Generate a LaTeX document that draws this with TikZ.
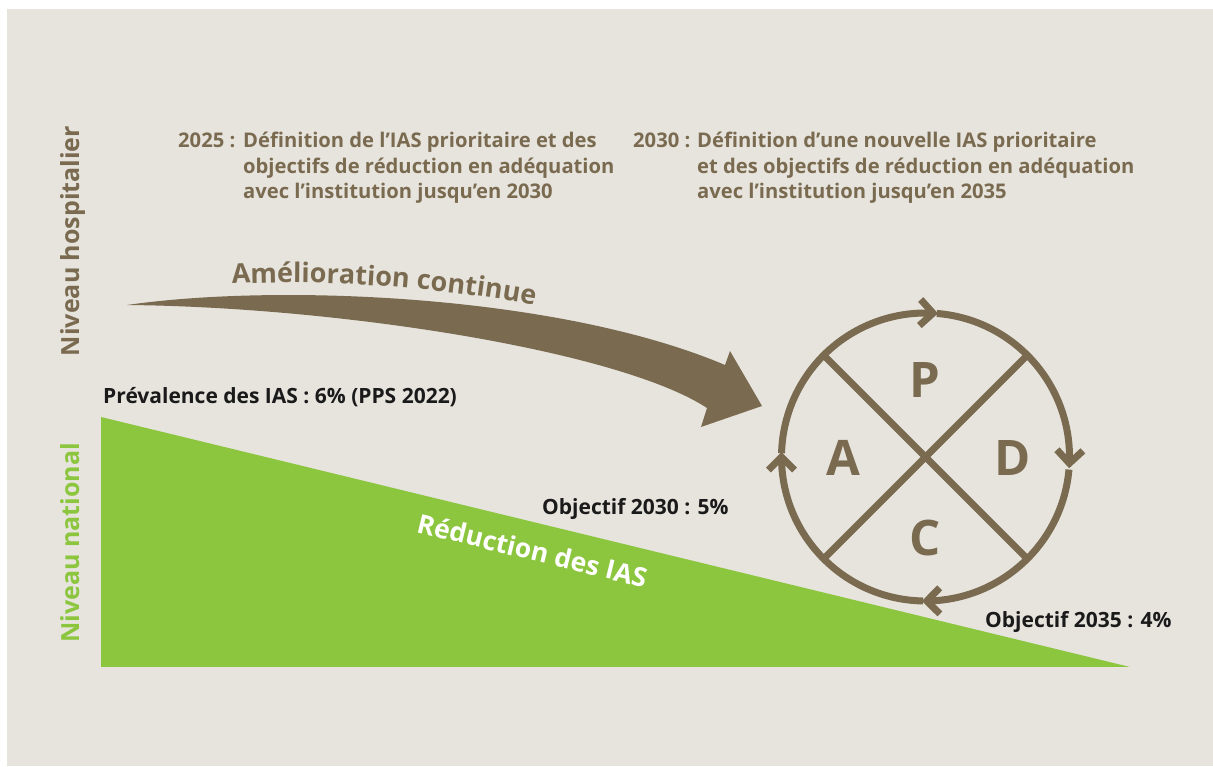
\documentclass[tikz,border=0pt]{standalone}
\usepackage{fontspec}
\setmainfont{Open Sans}
\usetikzlibrary{calc,decorations.text}
\definecolor{bg}{HTML}{E7E4DE}
\definecolor{brn}{HTML}{7A6B50}
\definecolor{grn}{HTML}{8CC63F}
\definecolor{txt}{HTML}{1A1A1A}
\begin{document}
\begin{tikzpicture}[x=1pt,y=1pt,
  hdr/.style={font=\bfseries\fontsize{20.2}{24}\selectfont, text=brn, inner sep=0, anchor=base west},
  lab/.style={font=\bfseries\fontsize{21}{24}\selectfont, text=txt, inner sep=0, anchor=base west},
  side/.style={font=\bfseries\fontsize{25}{30}\selectfont, rotate=90, anchor=base, inner sep=0},
  pdca/.style={draw=brn, line width=7pt},
  chev/.style={draw=brn, line width=7pt, line join=miter, miter limit=10},
  letter/.style={font=\bfseries\fontsize{49}{50}\selectfont, text=brn, inner sep=0},
]
\useasboundingbox (0,0) rectangle (1213,766);
\fill[white] (0,0) rectangle (1213,766);
\fill[bg] (7,0) rectangle (1213,757);

% green triangle
\fill[grn] (101,349) -- (101,99) -- (1130,99) -- cycle;

% side labels
\node[side, text=brn] (nh) at (79,525) {Niveau hospitalier};
\node[side, text=grn] (nn) at (79,223) {Niveau national};

% headers
\node[hdr] (y25) at (178,618) {2025 :};
\node[hdr] (h25a) at (243,618) {Définition de l’IAS prioritaire et des};
\node[hdr] (h25b) at (243,592) {objectifs de réduction en adéquation};
\node[hdr] (h25c) at (243,567) {avec l’institution jusqu’en 2030};
\node[hdr] (y30) at (633,618) {2030 :};
\node[hdr] (h30a) at (697,618) {Définition d’une nouvelle IAS prioritaire};
\node[hdr] (h30b) at (697,592) {et des objectifs de réduction en adéquation};
\node[hdr] (h30c) at (697,567) {avec l’institution jusqu’en 2035};

% labels
\node[lab] (prev) at (103,362) {Prévalence des IAS : 6\% (PPS 2022)};
\node[lab] (o30) at (542,251) {Objectif 2030 : 5\%};
\node[lab] (o35) at (985,138) {Objectif 2035 : 4\%};
\node[font=\bfseries\fontsize{26.5}{30}\selectfont, text=white, rotate=-13.7, anchor=base, inner sep=0] (red) at (530,206) {Réduction des IAS};

% big arrow
\fill[brn] (127,461) .. controls (280,483) and (560,471) .. (725,401) -- (730,415) -- (762,360) -- (701,339) -- (707,358) .. controls (620,415) and (340,459) .. (127,461) -- cycle;
\path[decorate, decoration={text along path, text align=left, text color=brn,
  text={|\bfseries\fontsize{27}{30}\selectfont|Amélioration continue}}]
  (232,482) .. controls (330,487) and (440,478) .. (540,460);

% PDCA
\coordinate (C) at (925.5,309);
\draw[pdca] ($(C)+(85.5:144)$) arc[start angle=85.5, end angle=-2.5, radius=144];
\draw[pdca] ($(C)+(-5:144)$) arc[start angle=-5, end angle=-89.5, radius=144];
\draw[pdca] ($(C)+(-91:144)$) arc[start angle=-91, end angle=-180, radius=144];
\draw[pdca] ($(C)+(178.5:144)$) arc[start angle=178.5, end angle=87, radius=144];
\coordinate (t1) at ($(C)+(-2.5:144)$);
\coordinate (t2) at ($(C)+(-89.5:144)$);
\coordinate (t3) at ($(C)+(-180:144)$);
\coordinate (t4) at ($(C)+(87:144)$);
\draw[chev] (t1) ++(42.5:18.4) -- (t1) -- ++(132.5:18.4);
\draw[chev] (t2) ++(-44.5:18.4) -- (t2) -- ++(45.5:18.4);
\draw[chev] (t3) ++(-135:18.4) -- (t3) -- ++(-45:18.4);
\draw[chev] (t4) ++(132:18.4) -- (t4) -- ++(-138:18.4);
\draw[pdca] ($(C)+(135:144)$) -- ($(C)+(-45:144)$);
\draw[pdca] ($(C)+(45:144)$) -- ($(C)+(-135:144)$);
\node[letter] (P) at (925,386) {P};
\node[letter] (A) at (843,308) {A};
\node[letter] (D) at (1013,308) {D};
\node[letter] (Cl) at (925,228) {C};
\end{tikzpicture}
\end{document}
